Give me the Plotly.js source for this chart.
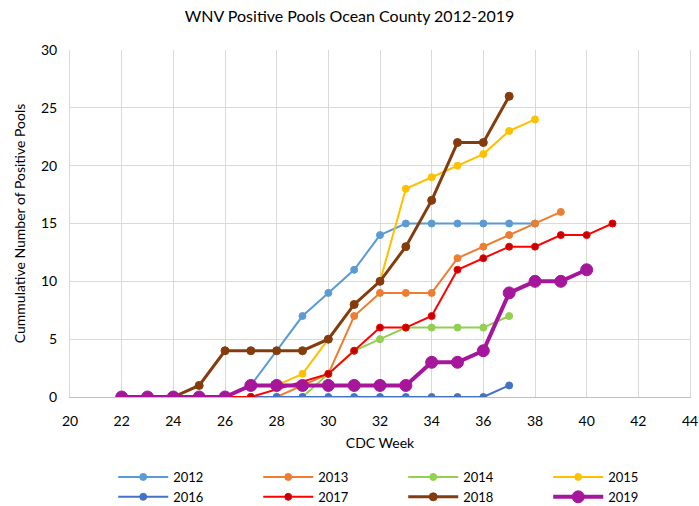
<!DOCTYPE html>
<html>
<head>
<meta charset="utf-8">
<script src="https://cdn.plot.ly/plotly-3.0.1.min.js"></script>
<style>
  html, body { margin: 0; padding: 0; background: #fff; }
  #graph { width: 699px; height: 506px; }
</style>
</head>
<body>
<div id="graph"></div>
<script>
// CDC weeks and cumulative positive pools per year
const weeks2012 = [22, 23, 24, 25, 26, 27, 28, 29, 30, 31, 32, 33, 34, 35, 36, 37, 38];
const pools2012 = [0, 0, 0, 0, 0, 1, 4, 7, 9, 11, 14, 15, 15, 15, 15, 15, 15];

const weeks2013 = [22, 23, 24, 25, 26, 27, 28, 29, 30, 31, 32, 33, 34, 35, 36, 37, 38, 39];
const pools2013 = [0, 0, 0, 0, 0, 0, 0, 1, 2, 7, 9, 9, 9, 12, 13, 14, 15, 16];

const weeks2014 = [22, 23, 24, 25, 26, 27, 28, 29, 30, 31, 32, 33, 34, 35, 36, 37];
const pools2014 = [0, 0, 0, 0, 0, 0, 0, 0, 2, 4, 5, 6, 6, 6, 6, 7];

const weeks2015 = [28, 29, 30, 31, 32, 33, 34, 35, 36, 37, 38];
const pools2015 = [1, 2, 5, 8, 10, 18, 19, 20, 21, 23, 24];

const weeks2016 = [22, 23, 24, 25, 26, 27, 28, 29, 30, 31, 32, 33, 34, 35, 36, 37];
const pools2016 = [0, 0, 0, 0, 0, 0, 0, 0, 0, 0, 0, 0, 0, 0, 0, 1];

const weeks2017 = [22, 23, 24, 25, 26, 27, 30, 31, 32, 33, 34, 35, 36, 37, 38, 39, 40, 41];
const pools2017 = [0, 0, 0, 0, 0, 0, 2, 4, 6, 6, 7, 11, 12, 13, 13, 14, 14, 15];

const weeks2018 = [22, 23, 24, 25, 26, 27, 28, 29, 30, 31, 32, 33, 34, 35, 36, 37];
const pools2018 = [0, 0, 0, 1, 4, 4, 4, 4, 5, 8, 10, 13, 17, 22, 22, 26];

const weeks2019 = [22, 23, 24, 25, 26, 27, 28, 29, 30, 31, 32, 33, 34, 35, 36, 37, 38, 39, 40];
const pools2019 = [0, 0, 0, 0, 0, 1, 1, 1, 1, 1, 1, 1, 3, 3, 4, 9, 10, 10, 11];

const xTicks = [20, 22, 24, 26, 28, 30, 32, 34, 36, 38, 40, 42, 44];
const yTicks = [0, 5, 10, 15, 20, 25, 30];

function makeTrace(name, x, y, lineColor, markerColor, lw, ms) {
    return {
        x: x,
        y: y,
        name: name,
        type: 'scatter',
        mode: 'lines+markers',
        line: { color: lineColor, width: lw },
        marker: { color: markerColor, size: ms, line: { color: lineColor, width: 1 } }
    };
}

let traces = [
    makeTrace('2012', weeks2012, pools2012, '#5B9BD5', '#5B9BD5', 2, 7),
    makeTrace('2013', weeks2013, pools2013, '#ED7D31', '#ED7D31', 2, 7),
    makeTrace('2014', weeks2014, pools2014, '#92D050', '#92D050', 2, 7),
    makeTrace('2015', weeks2015, pools2015, '#FFC000', '#FFC000', 2, 7),
    makeTrace('2016', weeks2016, pools2016, '#4472C4', '#4472C4', 2, 7),
    makeTrace('2017', weeks2017, pools2017, '#FF0000', '#C00000', 2, 7),
    makeTrace('2018', weeks2018, pools2018, '#843C0C', '#843C0C', 3, 8),
    makeTrace('2019', weeks2019, pools2019, '#A5169B', '#A5169B', 4, 12)
];

let myLayout = {
    width: 699,
    height: 506,
    margin: { l: 70, r: 9, t: 50, b: 109 },
    paper_bgcolor: '#fff',
    plot_bgcolor: '#fff',
    font: { family: 'Lato, "Open Sans", sans-serif', size: 13, color: '#595959' },
    title: {
        text: 'WNV Positive Pools Ocean County 2012-2019',
        font: { size: 16, color: '#000' },
        x: 0.5, xanchor: 'center', y: 0.968, yanchor: 'middle'
    },
    xaxis: {
        range: [20, 44],
        tickvals: xTicks,
        ticks: 'outside', ticklen: 11, tickcolor: 'rgba(0,0,0,0)',
        showgrid: true, gridcolor: '#D9D9D9', gridwidth: 1,
        zeroline: false,
        showline: true, linecolor: '#BFBFBF', linewidth: 1,
        tickfont: { size: 14, color: '#000' },
        title: { text: 'CDC Week', font: { size: 14, color: '#000' }, standoff: 10 }
    },
    yaxis: {
        range: [0, 30],
        tickvals: yTicks,
        ticks: 'outside', ticklen: 9, tickcolor: 'rgba(0,0,0,0)',
        showgrid: true, gridcolor: '#D9D9D9', gridwidth: 1,
        zeroline: false,
        showline: true, linecolor: '#D9D9D9', mirror: true,
        tickfont: { size: 14, color: '#000' },
        title: { text: 'Cummulative Number of Positive Pools', font: { size: 14, color: '#000' }, standoff: 12 }
    },
    showlegend: true,
    legend: {
        orientation: 'h',
        xref: 'container', yref: 'container',
        x: 0.162, xanchor: 'left',
        y: 0.087, yanchor: 'top',
        itemwidth: 50,
        entrywidth: 80, entrywidthmode: 'pixels',
        tracegroupgap: 0,
        font: { size: 13, color: '#000' },
        bgcolor: 'rgba(0,0,0,0)'
    }
};

Plotly.newPlot('graph', traces, myLayout, { displayModeBar: false, staticPlot: true });
</script>
</body>
</html>
